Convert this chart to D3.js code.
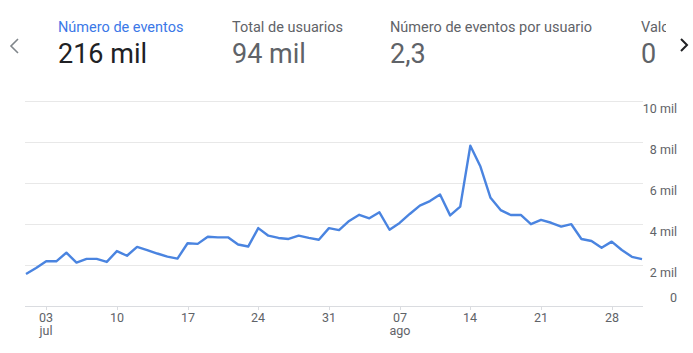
<!doctype html>
<html>
<head>
<meta charset="utf-8">
<script src="https://d3js.org/d3.v7.min.js"></script>
<style>
  body { margin: 0; background: #fff; }
  text { font-family: Roboto, "Noto Sans", sans-serif; }
</style>
</head>
<body>
<script>
// daily event counts (thousands), 1 jul - 31 ago
var startDate = new Date(2023, 6, 1);
var eventos = [
  1.56, 1.85, 2.18, 2.18, 2.6, 2.12, 2.3, 2.3, 2.15, 2.68,
  2.45, 2.88, 2.73, 2.56, 2.41, 2.31, 3.06, 3.03, 3.38, 3.35,
  3.35, 3.0, 2.9, 3.8, 3.43, 3.32, 3.27, 3.43, 3.32, 3.23,
  3.8, 3.7, 4.15, 4.45, 4.28, 4.57, 3.72, 4.05, 4.49, 4.9,
  5.12, 5.44, 4.42, 4.85, 7.82, 6.8, 5.28, 4.68, 4.44, 4.44,
  3.99, 4.2, 4.06, 3.87, 3.99, 3.27, 3.17, 2.84, 3.14, 2.73,
  2.4, 2.29
];
var yTicks = [0, 2, 4, 6, 8, 10];
var yTickLabels = ["0", "2 mil", "4 mil", "6 mil", "8 mil", "10 mil"];
var xTickDays = [2, 9, 16, 23, 30, 37, 44, 51, 58]; // days after 1 jul
var monthNames = { 6: "jul", 7: "ago" };

// last card is cut by the panel edge, only its start shows
var metrics = [
  { name: "Número de eventos", value: "216 mil", x: 58, active: true },
  { name: "Total de usuarios", value: "94 mil", x: 232 },
  { name: "Número de eventos por usuario", value: "2,3", x: 390 },
  { name: "Valor", value: "0", x: 641 }
];

var width = 693, height = 353;

var svg = d3.select("body").append("svg")
  .attr("width", width)
  .attr("height", height);

svg.append("clipPath").attr("id", "cardclip")
  .append("rect").attr("x", 0).attr("y", 0).attr("width", 666).attr("height", 80);

var cards = svg.append("g").attr("clip-path", "url(#cardclip)");
metrics.forEach(function (m) {
  cards.append("text")
    .attr("x", m.x).attr("y", 32)
    .attr("font-size", 14.5)
    .attr("fill", m.active ? "#3b78e7" : "#5f6368")
    .text(m.name);
  cards.append("text")
    .attr("x", m.x).attr("y", 63)
    .attr("font-size", 27)
    .attr("fill", m.active ? "#202124" : "#5f6368")
    .text(m.value);
});

// arrows
svg.append("path")
  .attr("d", "M18,39 L11,46 L18,53")
  .attr("fill", "none").attr("stroke", "#80868b").attr("stroke-width", 1.6);
svg.append("path")
  .attr("d", "M681,39 L687,45 L681,51")
  .attr("fill", "none").attr("stroke", "#202124").attr("stroke-width", 2);

// scales
var x = d3.scaleTime()
  .domain([startDate, d3.timeDay.offset(startDate, eventos.length - 1)])
  .range([26, 642]);
var y = d3.scaleLinear().domain([0, 10]).range([306, 101]);

// grid
svg.append("g").selectAll("line")
  .data(yTicks)
  .enter().append("line")
  .attr("x1", 25).attr("x2", 643)
  .attr("y1", function (d) { return y(d) + 0.5; })
  .attr("y2", function (d) { return y(d) + 0.5; })
  .attr("stroke", function (d) { return d === 0 ? "#dadce0" : "#e8e8e8"; })
  .attr("stroke-width", 1);

// y labels
svg.append("g").selectAll("text")
  .data(yTicks)
  .enter().append("text")
  .attr("x", 677)
  .attr("y", function (d) { return d === 0 ? y(d) - 4.5 : y(d) + 11.5; })
  .attr("text-anchor", "end")
  .attr("font-size", 12.5)
  .attr("fill", "#5f6368")
  .text(function (d, i) { return yTickLabels[i]; });

// x ticks
var xt = svg.append("g").selectAll("g")
  .data(xTickDays.map(function (d) { return d3.timeDay.offset(startDate, d); }))
  .enter().append("g")
  .attr("transform", function (d) { return "translate(" + Math.round(x(d)) + ",0)"; });

xt.append("line")
  .attr("x1", 0.5).attr("x2", 0.5)
  .attr("y1", 306).attr("y2", 310)
  .attr("stroke", "#dadce0");

var xl = xt.append("text")
  .attr("y", 322)
  .attr("text-anchor", "middle")
  .attr("font-size", 12.5)
  .attr("fill", "#5f6368");

xl.append("tspan")
  .attr("x", 0)
  .text(function (d) { return d3.timeFormat("%d")(d); });

// month name under the first tick of each month
xl.filter(function (d, i) { return i === 0 || d.getDate() <= 7; })
  .append("tspan")
  .attr("x", 0)
  .attr("dy", 13)
  .text(function (d) { return monthNames[d.getMonth()]; });

// line
var line = d3.line()
  .x(function (d, i) { return x(d3.timeDay.offset(startDate, i)); })
  .y(function (d) { return y(d); });

svg.append("path")
  .datum(eventos)
  .attr("d", line)
  .attr("fill", "none")
  .attr("stroke", "#4a84e0")
  .attr("stroke-width", 2.4)
  .attr("stroke-linejoin", "round");
</script>
</body>
</html>
